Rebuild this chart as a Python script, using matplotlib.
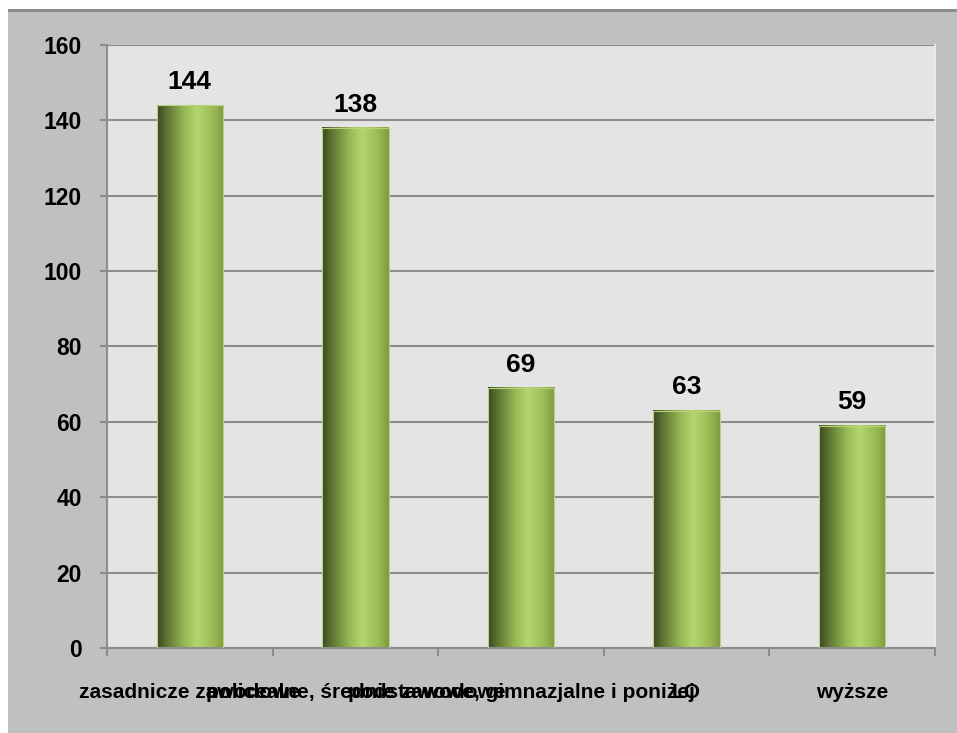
import numpy as np
import matplotlib
matplotlib.use("Agg")
import matplotlib.pyplot as plt
from matplotlib.colors import LinearSegmentedColormap
from matplotlib.patches import Rectangle

plt.rcParams['font.family'] = ['Liberation Sans Narrow', 'Liberation Sans', 'DejaVu Sans']
plt.rcParams['font.weight'] = 'bold'

# wykształcenie
categories = ["zasadnicze zawodowe", "policealne, średnie zawodowe",
              "podstawowe, gimnazjalne i poniżej", "LO", "wyższe"]
values = [144, 138, 69, 63, 59]
yticks = [0, 20, 40, 60, 80, 100, 120, 140, 160]

# cylinder shading for the bars
bar_cmap = LinearSegmentedColormap.from_list("cyl", [
    (0.0, "#3a4822"), (0.15, "#5e7531"), (0.4, "#95b754"),
    (0.6, "#b3d66f"), (0.85, "#9aba55"), (1.0, "#7e9a40")])

fig = plt.figure(figsize=(9.57, 7.33), dpi=100)
fig.patch.set_facecolor("white")

# grey panel behind the chart, with shadow on the left and bottom
bg = fig.add_axes([0, 0, 1, 1], zorder=-10)
bg.axis("off")
bg.add_patch(Rectangle((8, 9), 960, 730, facecolor="#c0c0c0", edgecolor="none"))
bg.add_patch(Rectangle((8, 9), 960, 2.5, facecolor="#8e8e8e", edgecolor="none"))
shade = np.linspace(0, 1, 64)[None, :]
bg.imshow(shade, extent=[8, 22, 733, 11], cmap=LinearSegmentedColormap.from_list(
    "l", ["#747474", "#c0c0c0"]), aspect="auto", interpolation="bicubic")
bg.imshow(shade.T, extent=[20, 957, 733, 718], cmap=LinearSegmentedColormap.from_list(
    "b", ["#c0c0c0", "#8a8a8a"]), aspect="auto", interpolation="bicubic")
bg.set_xlim(0, 957)
bg.set_ylim(733, 0)

ax = fig.add_axes([0.1118, 0.116, 0.977 - 0.1118, 0.9386 - 0.116])
ax.set_facecolor("#e4e4e4")

x = np.arange(len(categories))
bars = ax.bar(x, values, width=0.40, color="none", edgecolor="#b9d27e",
              linewidth=0.8, zorder=3)
grad = np.linspace(0, 1, 256)[None, :]
for b in bars:
    x0, w, h = b.get_x(), b.get_width(), b.get_height()
    ax.imshow(grad, extent=[x0, x0 + w, 0, h], cmap=bar_cmap, aspect="auto",
              interpolation="bicubic", zorder=2.5)
    ax.text(x0 + w / 2, h + 3, str(int(h)), ha="center", va="bottom",
            fontsize=19, fontweight="bold", color="black", zorder=4)

ax.set_xlim(-0.5, len(categories) - 0.5)
ax.set_ylim(0, 160)
ax.set_yticks(yticks)
ax.set_yticklabels([str(t) for t in yticks], fontsize=16.5, fontweight="bold")
ax.set_xticks(x)
ax.set_xticklabels(categories, fontsize=15, fontweight="bold")
ax.set_xticks(np.arange(-0.5, len(categories)), minor=True)
ax.tick_params(axis="x", which="major", length=0, pad=25)
ax.tick_params(axis="x", which="minor", length=6, width=1.5, color="#8c8c8c")
ax.tick_params(axis="y", length=5, width=1.5, color="#8c8c8c", pad=13)
ax.grid(axis="y", color="#8c8c8c", linewidth=1.5, zorder=1)
ax.set_axisbelow(True)

for side in ("left", "bottom"):
    ax.spines[side].set_color("#8c8c8c")
    ax.spines[side].set_linewidth(1.5)
ax.spines["top"].set_visible(False)
ax.spines["right"].set_color("#f0f0f0")
ax.spines["right"].set_linewidth(1.2)

fig.savefig("out.png", dpi=100)
